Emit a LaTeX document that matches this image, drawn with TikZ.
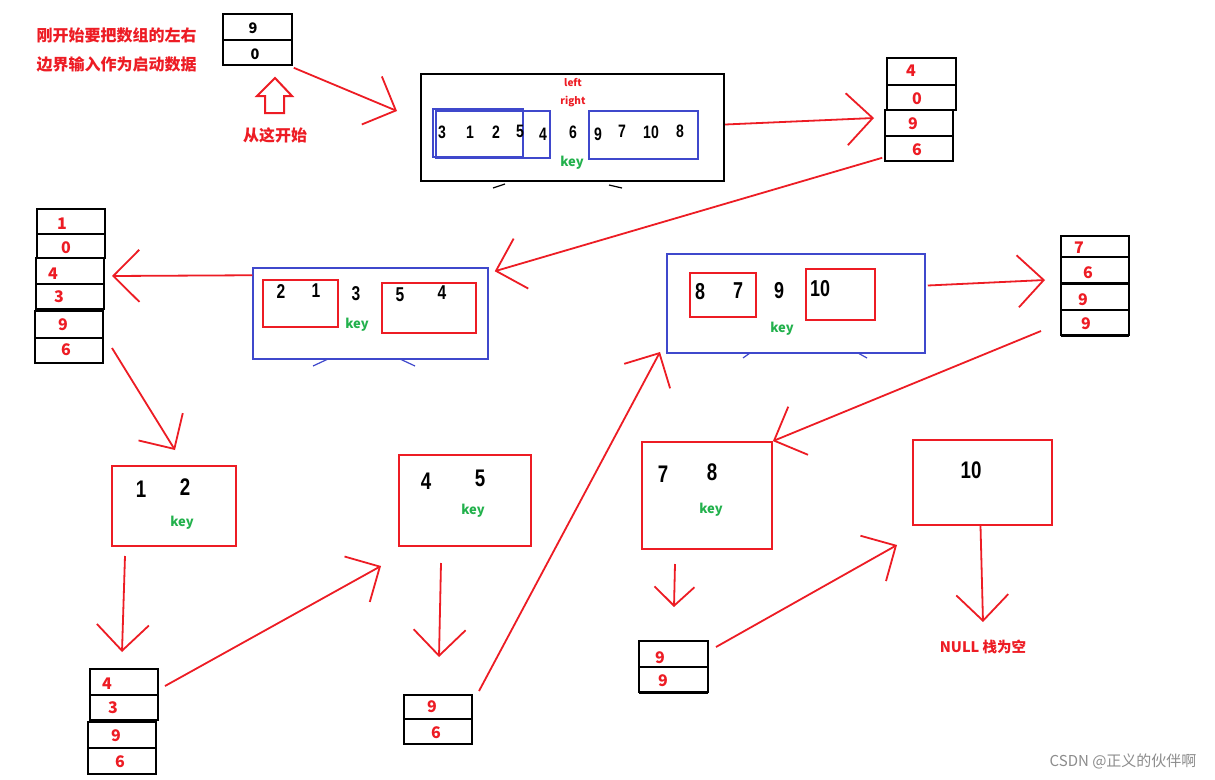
\documentclass[tikz,border=0pt]{standalone}
\usepackage{fontspec}
\setmainfont{Noto Sans CJK SC}
\newfontfamily\cjk{Noto Sans CJK SC}
\newfontfamily\numfont{Liberation Sans Bold}[FakeStretch=0.78]
\usepackage{xcolor}
\usetikzlibrary{arrows.meta,positioning,calc}

\definecolor{pred}{RGB}{237,28,36}
\definecolor{pblue}{RGB}{63,72,204}
\definecolor{pgreen}{RGB}{34,177,76}

\tikzset{
  redarr/.style={pred, line width=1.8pt, -{Straight Barb[length=26pt,width=52pt,line width=1.8pt]}},
  smallarr/.style={pred, line width=1.8pt, -{Straight Barb[length=19pt,width=40pt,line width=1.8pt]}},
  cell/.style={draw, line width=1.6pt, inner sep=0pt},
  snum/.style={text=pred, font=\cjk\bfseries\fontsize{16}{16}\selectfont},
  bnum/.style={font=\numfont\fontsize{24}{24}\selectfont},
  keylab/.style={text=pgreen, font=\cjk\bfseries\fontsize{13}{13}\selectfont},
  redbox/.style={draw=pred, line width=1.8pt, inner sep=0pt},
  bluebox/.style={draw=pblue, line width=1.5pt, inner sep=0pt},
  note/.style={text=pred, font=\cjk\bfseries\fontsize{16}{16}\selectfont},
}

\begin{document}
\begin{tikzpicture}[x=1pt,y=-1pt]
\fill[white] (0,0) rectangle (1215,779);
\useasboundingbox (0,0) rectangle (1215,779);

% start: array bounds
\node[note, anchor=west] (intro1) at (33,35) {刚开始要把数组的左右};
\node[note, anchor=west] (intro2) at (33,64) {边界输入作为启动数据};
\node[cell, minimum width=69pt, minimum height=26pt] (s1a) at (257.5,27) {};
\node[cell, minimum width=69pt, minimum height=25pt] (s1b) at (257.5,52.5) {};
\node[font=\cjk\bfseries\fontsize{14.5}{14.5}\selectfont] (s1an) at (253,28) {9};
\node[font=\cjk\bfseries\fontsize{14.5}{14.5}\selectfont] (s1bn) at (255,54) {0};
\draw[pred, line width=2pt, line join=miter] (275,78) -- (292,96) -- (284,96) -- (284,113)
  -- (265,113) -- (265,96) -- (257,96) -- cycle;
\node[note] (here) at (275,135) {从这开始};

% first pass
\node[draw, line width=2.4pt, minimum width=303pt, minimum height=107pt] (box1) at (572.5,127.5) {};
\draw[pblue, line width=1.5pt] (433,109) rectangle (523,157);
\draw[pblue, line width=1.5pt] (436,111) rectangle (550,158);
\draw[pblue, line width=1.5pt] (589,111) rectangle (698,159);
\foreach \v/\x/\y in {3/442/132, 1/470/132, 2/496/132, 5/520/131, 4/543/134,
  6/573/132, 9/598/134, 7/622/131, 10/651/132, 8/680/131}
  \node[font=\numfont\fontsize{18}{18}\selectfont] at (\x,\y) {\v};
\node[text=pred, font=\cjk\bfseries\fontsize{10}{10}\selectfont] (lft) at (573,83) {left};
\node[text=pred, font=\cjk\bfseries\fontsize{10}{10}\selectfont] (rgt) at (573,102) {right};
\node[keylab] (key1) at (572,163) {key};
\draw[line width=1.2pt] (493,188) -- (505,184);
\draw[line width=1.2pt] (609,185) -- (622,188);

% stack after first pass
\node[cell, minimum width=69pt, minimum height=27pt] (s2a) at (921.5,71.5) {};
\node[cell, minimum width=69pt, minimum height=25pt] (s2b) at (921.5,97.5) {};
\node[cell, minimum width=68pt, minimum height=26pt] (s2c) at (919,123) {};
\node[cell, minimum width=68pt, minimum height=25pt] (s2d) at (919,148.5) {};
\node[snum] (s2an) at (911,71) {4};
\node[snum] (s2bn) at (917,99) {0};
\node[snum] (s2cn) at (913,124) {9};
\node[snum] (s2dn) at (917,150) {6};

% left part 0..4
\node[bluebox, minimum width=235pt, minimum height=91pt] (box2) at (370.5,313.5) {};
\draw[pred, line width=1.6pt] (263,280) rectangle (338,327);
\draw[pred, line width=1.6pt] (382,283) rectangle (476,333);
\foreach \v/\x/\y in {2/281/292, 1/316/291, 3/356/294, 5/400/295, 4/442/293}
  \node[font=\numfont\fontsize{20}{20}\selectfont] at (\x,\y) {\v};
\node[keylab] (key2) at (357,325) {key};
\draw[pblue, line width=1.2pt] (313,366) -- (328,359);
\draw[pblue, line width=1.2pt] (400,359) -- (415,366);

% stack after second pass
\node[cell, minimum width=68pt, minimum height=25pt] (s3a) at (71,221.5) {};
\node[cell, minimum width=68pt, minimum height=24pt] (s3b) at (71,246) {};
\node[cell, minimum width=68pt, minimum height=26pt] (s3c) at (70,271) {};
\node[cell, minimum width=68pt, minimum height=25pt] (s3d) at (70,296.5) {};
\node[cell, minimum width=68pt, minimum height=27pt] (s3e) at (69,324.5) {};
\node[cell, minimum width=68pt, minimum height=25pt] (s3f) at (69,350.5) {};
\node[snum] (s3an) at (62,224) {1};
\node[snum] (s3bn) at (66,248) {0};
\node[snum] (s3cn) at (53,274) {4};
\node[snum] (s3dn) at (59,297) {3};
\node[snum] (s3en) at (63,325) {9};
\node[snum] (s3fn) at (66,350) {6};

% 0..1
\node[redbox, minimum width=124pt, minimum height=80pt] (box4) at (174,506) {};
\node[bnum] (b4a) at (141,489) {1};
\node[bnum] (b4b) at (185,487) {2};
\node[keylab] (key4) at (182,523) {key};

\node[cell, minimum width=68pt, minimum height=26pt] (s5a) at (124,682) {};
\node[cell, minimum width=68pt, minimum height=25pt] (s5b) at (124,707.5) {};
\node[cell, minimum width=68pt, minimum height=26pt] (s5c) at (122,735) {};
\node[cell, minimum width=68pt, minimum height=26pt] (s5d) at (122,761) {};
\node[snum] (s5an) at (107,684) {4};
\node[snum] (s5bn) at (113,708) {3};
\node[snum] (s5cn) at (116,736) {9};
\node[snum] (s5dn) at (120,762) {6};

% 3..4
\node[redbox, minimum width=132pt, minimum height=91pt] (box6) at (465,500.5) {};
\node[bnum] (b6a) at (426,481) {4};
\node[bnum] (b6b) at (480,478) {5};
\node[keylab] (key6) at (473,511) {key};

\node[cell, minimum width=68pt, minimum height=24pt] (s7a) at (438,707) {};
\node[cell, minimum width=68pt, minimum height=25pt] (s7b) at (438,731.5) {};
\node[snum] (s7an) at (432,707) {9};
\node[snum] (s7bn) at (436,733) {6};

% right part 6..9
\node[bluebox, minimum width=258pt, minimum height=99pt] (box8) at (796,303.5) {};
\draw[pred, line width=1.6pt] (690,273) rectangle (756,317);
\draw[pred, line width=1.6pt] (806,269) rectangle (875,320);
\foreach \v/\x/\y in {8/700/292, 7/738/291, 9/779/291, 10/820/289}
  \node[font=\numfont\fontsize{23}{23}\selectfont] at (\x,\y) {\v};
\node[keylab] (key8) at (782,329) {key};
\draw[pblue, line width=1.2pt] (743,358) -- (750,353);
\draw[pblue, line width=1.2pt] (858,353) -- (867,358);

\node[cell, minimum width=68pt, minimum height=21pt] (s9a) at (1095,246.5) {};
\node[cell, minimum width=68pt, minimum height=26pt] (s9b) at (1095,270) {};
\node[cell, minimum width=68pt, minimum height=27pt] (s9c) at (1095,296.5) {};
\node[cell, minimum width=68pt, minimum height=25pt] (s9d) at (1095,322.5) {};
\draw[line width=3pt] (1061,283) -- (1129,283);
\draw[line width=3pt] (1061,335) -- (1129,335);
\node[snum] (s9an) at (1079,248) {7};
\node[snum] (s9bn) at (1088,273) {6};
\node[snum] (s9cn) at (1083,300) {9};
\node[snum] (s9dn) at (1086,324) {9};

% 6..7
\node[redbox, minimum width=130pt, minimum height=107pt] (box10) at (707,495.5) {};
\node[bnum] (b10a) at (663,474) {7};
\node[bnum] (b10b) at (712,472) {8};
\node[keylab] (key10) at (711,510) {key};

\node[cell, minimum width=69pt, minimum height=26pt] (s11a) at (673.5,654) {};
\node[cell, minimum width=69pt, minimum height=25pt] (s11b) at (673.5,679.5) {};
\draw[line width=3pt] (639,692) -- (708,692);
\node[snum] (s11an) at (660,658) {9};
\node[snum] (s11bn) at (663,681) {9};

% 9..9
\node[redbox, minimum width=139pt, minimum height=85pt] (box12) at (982.5,482.5) {};
\node[bnum] (b12a) at (971,470) {10};
\node[note, font=\cjk\bfseries\fontsize{14.5}{14.5}\selectfont] (empty) at (983,647) {NULL 栈为空};

% arrow ends
\coordinate (t1) at (397,111);
\coordinate (t2) at (874,118);
\coordinate (t4) at (112,276);
\coordinate (f5) at (112,348);
\coordinate (t5) at (175,450);
\coordinate (f6) at (125,556);
\coordinate (t6) at (122,652);
\coordinate (f7) at (165,686);
\coordinate (t7) at (381,566);
\coordinate (f8) at (441,563);
\coordinate (t8) at (439,657);
\coordinate (f9) at (479,691);
\coordinate (t9) at (660,352);
\coordinate (t10) at (1045,280);
\coordinate (f11) at (1041,331);
\coordinate (f12) at (675,564);
\coordinate (t12) at (674,607);
\coordinate (f13) at (716,647);
\coordinate (t13) at (897,545);
\coordinate (t14) at (983,622);

% arrows
\draw[redarr] ($(s1b.south east)+(1,2)$) -- (t1);
\draw[redarr] ($(box1.east)+(0,-3)$) -- (t2);
\draw[redarr] ($(s2d.south west)+(-2,-4)$) -- ($(box2.north east)+(6,4)$);
\draw[redarr] ($(box2.north west)+(0,8)$) -- (t4);
\draw[redarr] (f5) -- (t5);
\draw[redarr] (f6) -- (t6);
\draw[redarr] (f7) -- (t7);
\draw[redarr] (f8) -- (t8);
\draw[redarr] (f9) -- (t9);
\draw[redarr] ($(box8.east)+(2,-18)$) -- (t10);
\draw[redarr] (f11) -- (box10.north east);
\draw[smallarr] (f12) -- (t12);
\draw[redarr] (f13) -- (t13);
\draw[redarr] ($(box12.south)+(-2,0)$) -- (t14);

% watermark
\node[anchor=east, text=black!45, font=\cjk\fontsize{15}{15}\selectfont] (mark) at (1200,761) {CSDN @正义的伙伴啊};
\end{tikzpicture}
\end{document}
